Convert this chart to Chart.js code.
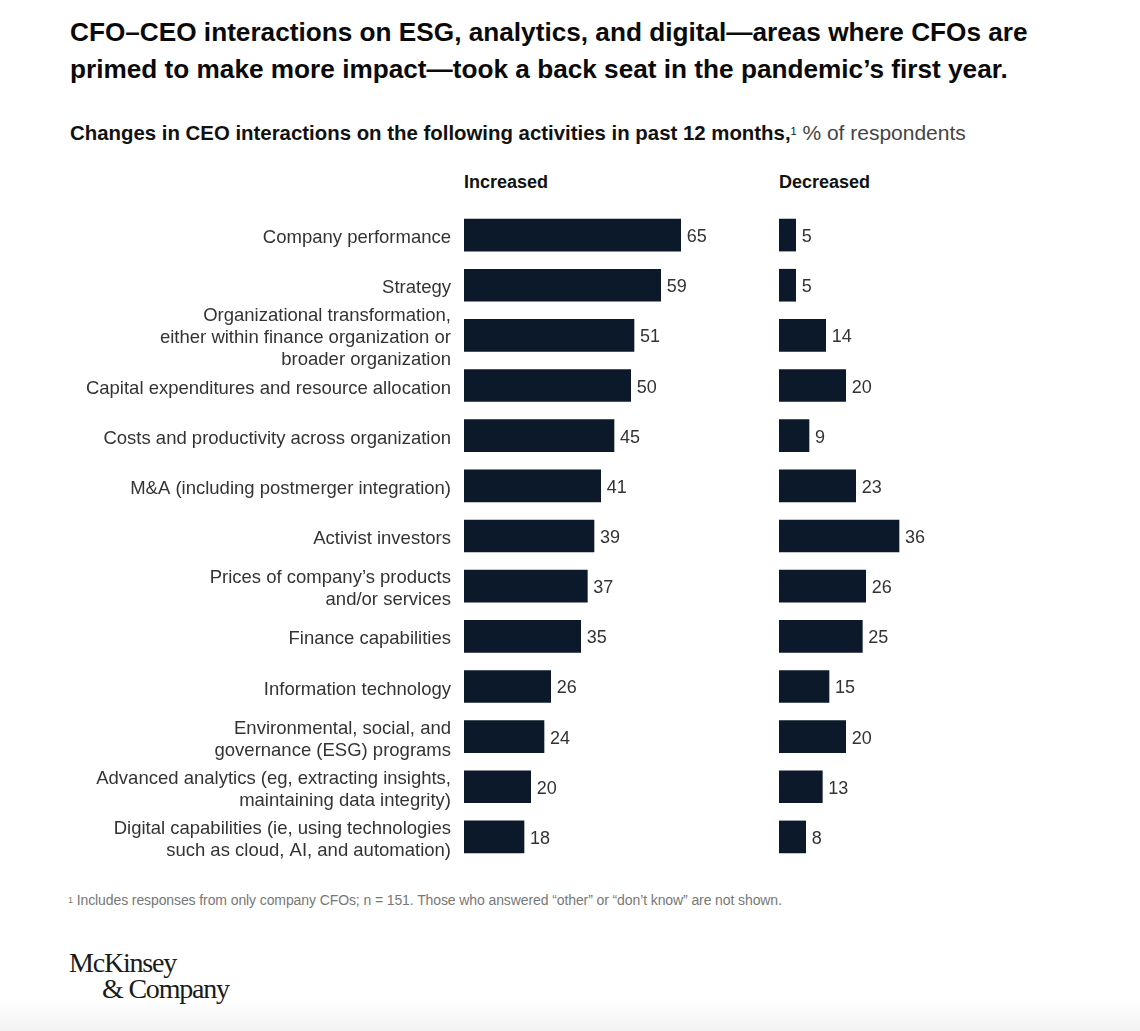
<!DOCTYPE html>
<html>
<head>
<meta charset="utf-8">
<script src="https://cdn.jsdelivr.net/npm/chart.js@4.4.1/dist/chart.umd.min.js"></script>
<style>
  html, body { margin:0; padding:0; background:#fff; }
  body { width:1140px; height:1031px; position:relative; overflow:hidden; font-family:"Liberation Sans", Arial, sans-serif; color:#111; }
  .abs { position:absolute; white-space:nowrap; }
  #title { left:70px; top:14px; font-size:26.2px; font-weight:bold; line-height:37px; color:#0a0a0a; }
  #subtitle { left:70px; top:120px; font-size:20.4px; line-height:26px; color:#111; }
  #subtitle b { font-weight:bold; }
  #subtitle sup { font-size:11px; vertical-align:top; position:relative; top:-2px; }
  #subtitle span.r { color:#444; font-size:21px; }
  .head { top:171px; font-size:18px; font-weight:bold; line-height:22px; color:#111; }
  #foot { left:68px; top:891px; font-size:14px; line-height:18px; color:#777; letter-spacing:-0.1px; }
  #foot sup { font-size:9px; vertical-align:top; }
  .logo { font-family:"Liberation Serif", "DejaVu Serif", serif; font-size:28px; color:#1a1a1a; letter-spacing:-1.2px; line-height:28px; }
  #wrapL { position:absolute; left:0; top:200px; width:764px; height:680px; }
  #wrapR { position:absolute; left:779px; top:200px; width:300px; height:680px; }
  #bottomfade { position:absolute; left:0; top:1000px; width:1140px; height:31px; background:linear-gradient(#fff, #f3f3f3); }
</style>
</head>
<body>
<div id="bottomfade"></div>
<div id="title" class="abs">CFO–CEO interactions on ESG, analytics, and digital—areas where CFOs are<br>primed to make more impact—took a back seat in the pandemic’s first year.</div>
<div id="subtitle" class="abs"><b>Changes in CEO interactions on the following activities in past 12 months,</b><sup>1</sup> <span class="r">% of respondents</span></div>
<div class="abs head" style="left:464px;">Increased</div>
<div class="abs head" style="left:779px;">Decreased</div>
<div id="wrapL"><canvas id="cL"></canvas></div>
<div id="wrapR"><canvas id="cR"></canvas></div>
<div id="foot" class="abs"><sup>1</sup> Includes responses from only company CFOs; n = 151. Those who answered “other” or “don’t know” are not shown.</div>
<div class="abs logo" style="left:69px; top:949px;">McKinsey</div>
<div class="abs logo" style="left:102px; top:975px;">&amp; Company</div>
<script>
const categories = [
  ["Company performance"],
  ["Strategy"],
  ["Organizational transformation,", "either within finance organization or", "broader organization"],
  ["Capital expenditures and resource allocation"],
  ["Costs and productivity across organization"],
  ["M&A (including postmerger integration)"],
  ["Activist investors"],
  ["Prices of company’s products", "and/or services"],
  ["Finance capabilities"],
  ["Information technology"],
  ["Environmental, social, and", "governance (ESG) programs"],
  ["Advanced analytics (eg, extracting insights,", "maintaining data integrity)"],
  ["Digital capabilities (ie, using technologies", "such as cloud, AI, and automation)"]
];
const increased = [65, 59, 51, 50, 45, 41, 39, 37, 35, 26, 24, 20, 18];
const decreased = [5, 5, 14, 20, 9, 23, 36, 26, 25, 15, 20, 13, 8];

const BAR = '#0c192a';
const TXT = '#333333';

const valueLabels = {
  id: 'valueLabels',
  afterDatasetsDraw(chart) {
    const ctx = chart.ctx;
    ctx.save();
    ctx.font = '18px "Liberation Sans", Arial, sans-serif';
    ctx.fillStyle = TXT;
    ctx.textAlign = 'left';
    ctx.textBaseline = 'middle';
    chart.data.datasets.forEach((ds, di) => {
      chart.getDatasetMeta(di).data.forEach((bar, i) => {
        ctx.fillText(String(ds.data[i]), bar.x + 6, bar.y + 2);
      });
    });
    ctx.restore();
  }
};

function makeChart(id, data, showLabels) {
  return new Chart(document.getElementById(id), {
    type: 'bar',
    data: {
      labels: categories.map(c => c.slice()),
      datasets: [{ data: data.slice(), backgroundColor: BAR, barThickness: 32, borderWidth: 0 }]
    },
    options: {
      indexAxis: 'y',
      responsive: true,
      maintainAspectRatio: false,
      animation: false,
      layout: { padding: { top: 10, bottom: 18, left: 0, right: 0 } },
      plugins: { legend: { display: false }, tooltip: { enabled: false } },
      scales: {
        x: { display: false, min: 0, max: 90 },
        y: {
          display: true,
          grid: { display: false, drawTicks: false },
          border: { display: false },
          ticks: {
            display: showLabels,
            autoSkip: false,
            padding: 13,
            labelOffset: 3,
            color: TXT,
            font: { family: '"Liberation Sans", Arial, sans-serif', size: 18.5, lineHeight: 1.19 }
          },
          afterFit(scale) {
            scale.width = showLabels ? 464 : 0;
            scale.paddingTop = 0;
            scale.paddingBottom = 0;
          }
        }
      }
    },
    plugins: [valueLabels]
  });
}
makeChart('cL', increased, true);
makeChart('cR', decreased, false);
</script>
</body>
</html>
